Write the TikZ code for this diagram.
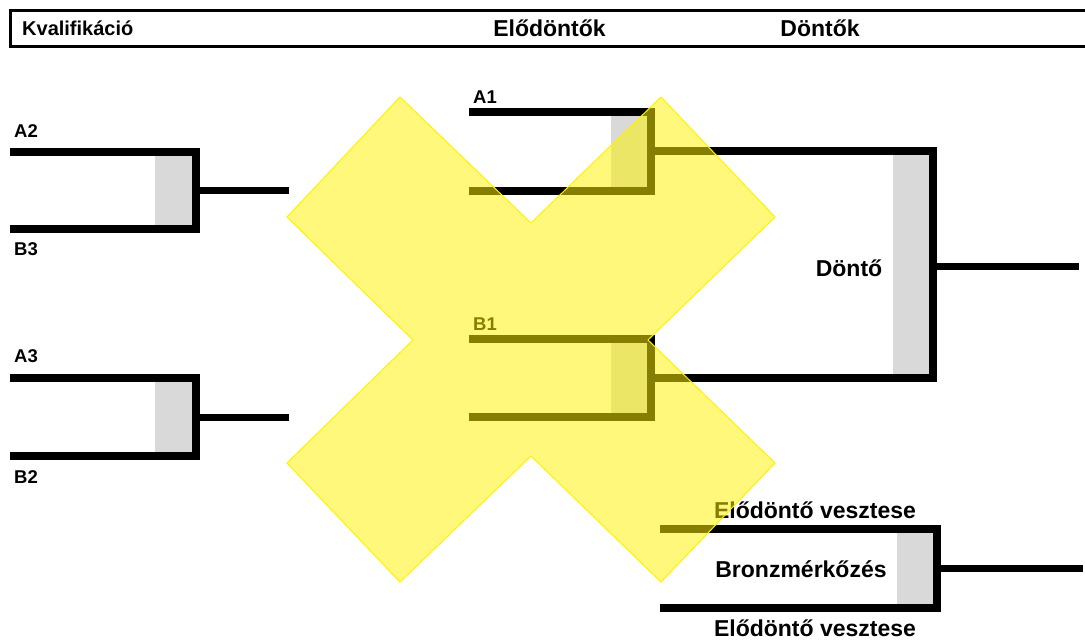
\documentclass[tikz,border=0pt]{standalone}
\usepackage{fontspec}
\setmainfont{Liberation Sans}
\begin{document}
\begin{tikzpicture}[x=1pt,y=-1pt,
  br/.style={line width=7.5pt,line join=miter,line cap=butt},
  outl/.style={line width=7pt},
  grey/.style={fill=black!15,draw=none},
  lab/.style={font=\fontsize{18.5}{18.5}\selectfont\bfseries,anchor=west,inner sep=0pt},
  head/.style={font=\fontsize{23}{23}\selectfont\bfseries,inner sep=0pt},
  big/.style={font=\fontsize{23}{23}\selectfont\bfseries,inner sep=0pt},
  cross/.style={fill=yellow,fill opacity=0.52,draw=yellow,line width=1pt}]
\useasboundingbox (0,0) rectangle (1085,641);
% header
\draw[line width=3pt] (1090,10) -- (10,10) -- (10,46) -- (1090,46);
\node[font=\fontsize{20}{20}\selectfont\bfseries,inner sep=0pt,anchor=west] (hk) at (22,28) {Kvalifikáció};
\node[head] (he) at (549.5,28) {Elődöntők};
\node[head] (hd) at (820,28) {Döntők};
% grey fills
\fill[grey] (155,152) rectangle (192,229);
\fill[grey] (155,378) rectangle (192,456);
\fill[grey] (611,112) rectangle (647,191);
\fill[grey] (611,339) rectangle (647,417);
\fill[grey] (893,151) rectangle (929,378);
\fill[grey] (897,529) rectangle (933,608);
% coordinates
\coordinate (q1a) at (10,152); \coordinate (q1c) at (196,152);
\coordinate (q1d) at (196,229); \coordinate (q1b) at (10,229);
\coordinate (q1m) at (196,190); \coordinate (q1o) at (289,190);
\coordinate (q2a) at (10,378); \coordinate (q2c) at (196,378);
\coordinate (q2d) at (196,456); \coordinate (q2b) at (10,456);
\coordinate (q2m) at (196,417); \coordinate (q2o) at (289,417);
\coordinate (s1a) at (469,112); \coordinate (s1c) at (651,112);
\coordinate (s1d) at (651,191); \coordinate (s1b) at (469,191);
\coordinate (s1m) at (651,151);
\coordinate (s2a) at (469,339); \coordinate (s2c) at (651,339);
\coordinate (s2d) at (651,417); \coordinate (s2b) at (469,417);
\coordinate (s2m) at (651,378);
\coordinate (fc) at (933,151); \coordinate (fd) at (933,378);
\coordinate (fm) at (933,266); \coordinate (fo) at (1079,266);
\coordinate (ba) at (660,529); \coordinate (bc) at (937,529);
\coordinate (bd) at (937,608); \coordinate (bb) at (660,608);
\coordinate (bm) at (937,568); \coordinate (bo) at (1083,568);
% brackets
\draw[br] (q1a) -- (q1c) -- (q1d) -- (q1b);
\draw[outl] (q1m) -- (q1o);
\draw[br] (q2a) -- (q2c) -- (q2d) -- (q2b);
\draw[outl] (q2m) -- (q2o);
\draw[br] (s1a) -- (s1c) -- (s1d) -- (s1b);
\draw[br] (s2a) -- (s2c) -- (s2d) -- (s2b);
\draw[br] (s1m) -- (fc) -- (fd) -- (s2m);
\draw[outl] (fm) -- (fo);
\draw[br] (ba) -- (bc) -- (bd) -- (bb);
\draw[outl] (bm) -- (bo);
% labels
\node[lab] (la2) at (14,131) {A2};
\node[lab] (lb3) at (14,249) {B3};
\node[lab] (la3) at (14,356) {A3};
\node[lab] (lb2) at (14,477) {B2};
\node[lab] (la1) at (473,97) {A1};
\node[lab] (lb1) at (473,324) {B1};
\node[big] (ldo) at (849,268) {Döntő};
\node[big] (lv1) at (815,510) {Elődöntő vesztese};
\node[big] (lbr) at (801,569) {Bronzmérkőzés};
\node[big] (lv2) at (815,628) {Elődöntő vesztese};
% cross
\path[cross] (400,97) -- (531,223) -- (661,97) -- (775,217) -- (648,340)
  -- (775,463) -- (661,582) -- (531,456) -- (400,582) -- (287,463)
  -- (413,340) -- (287,217) -- cycle;
\end{tikzpicture}
\end{document}
